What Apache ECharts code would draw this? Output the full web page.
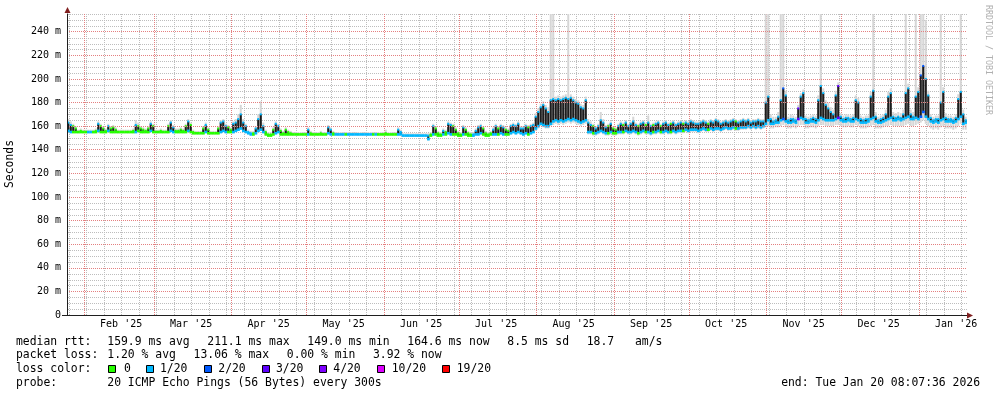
<!DOCTYPE html>
<html><head><meta charset="utf-8">
<script src="https://cdn.jsdelivr.net/npm/echarts@6/dist/echarts.min.js"></script>
<style>html,body{margin:0;padding:0;background:#fff}#c{width:997px;height:397px}</style>
</head><body><div id="c"></div>
<script>
// ---- time frame & axis labels ----
const START = '2025-01-25T08:07:36Z';
const END = '2026-01-20T08:07:36Z';
const MONTH_LABELS = ["Feb '25","Mar '25","Apr '25","May '25","Jun '25","Jul '25","Aug '25","Sep '25","Oct '25","Nov '25","Dec '25","Jan '26"];
const MONTH_LABEL_AT = ['2025-02-16','2025-03-16','2025-04-16','2025-05-16','2025-06-16','2025-07-16','2025-08-16','2025-09-16','2025-10-16','2025-11-16','2025-12-16','2026-01-16'];
const MONTH_STARTS = ['2025-02-01','2025-03-01','2025-04-01','2025-05-01','2025-06-01','2025-07-01','2025-08-01','2025-09-01','2025-10-01','2025-11-01','2025-12-01','2026-01-01'];
const FIRST_WEEK = '2025-01-26';
const Y_MAX = 255, Y_MAJOR = 20, Y_MINOR = 5;

// ---- daily values (ms), one per day from START ----
const LO = [
156,155,155,155,155,155,155,155,155,155, 155,155,156,155,155,155,156,155,155,155,
155,155,155,155,155,155,155,155,156,155, 155,155,155,156,155,155,155,155,155,155,
155,156,155,155,155,155,155,155,156,155, 154,154,154,154,154,155,154,154,154,154,
154,155,156,155,155,155,155,156,157,158, 156,155,154,153,153,154,156,157,155,153,
152,152,153,154,155,153,153,153,153,153, 153,153,153,153,153,153,153,153,153,153,
153,153,153,153,154,153,153,153,153,153, 153,153,153,153,153,153,153,153,153,153,
153,153,153,153,153,153,153,153,153,153, 153,153,153,153,152,152,152,152,152,152,
152,152,152,152,149,152,153,153,152,152, 153,153,154,153,153,153,152,152,153,153,
152,152,152,153,153,154,153,152,152,153, 153,153,153,154,153,153,153,154,155,154,
155,154,153,154,153,154,155,158,160,162, 161,160,160,162,164,165,164,165,164,165,
166,165,166,165,164,163,164,165,155,155, 154,154,155,156,155,154,154,155,154,154,
155,155,155,156,155,155,156,155,154,155, 156,155,155,154,155,155,156,155,155,156,
155,155,156,155,156,156,156,157,156,157, 157,157,156,157,158,157,157,158,157,158,
158,157,158,159,158,158,159,158,158,159, 159,159,160,159,160,159,160,159,160,162,
165,162,162,163,163,165,166,164,163,163, 164,163,166,167,166,163,163,164,164,163,
165,167,166,165,165,165,165,166,167,165, 164,164,165,164,164,166,165,163,163,163,
164,166,167,164,163,163,164,165,166,167, 165,165,166,165,166,167,168,166,166,167,
166,168,172,168,166,164,163,164,163,165, 166,164,164,164,163,164,166,168,162,163];
const HI = [
163,161,160,158,155,156,155,155,155,155, 155,156,162,160,158,156,160,158,159,157,
155,155,155,155,155,155,156,161,160,158, 157,156,158,162,160,155,155,156,155,155,
160,163,159,156,156,157,156,160,164,161, 155,154,154,154,158,161,157,154,154,154,
158,163,164,160,159,157,162,163,166,170, 163,160,155,154,154,158,166,170,160,155,
153,153,157,162,160,156,154,157,155,154, 153,153,153,153,153,153,157,154,153,153,
153,154,153,153,159,157,154,153,153,153, 153,153,153,153,153,153,153,153,153,153,
153,153,153,153,153,153,153,154,153,153, 153,153,157,155,152,152,152,152,152,152,
152,152,152,152,152,153,160,158,154,153, 156,155,162,161,160,157,154,153,159,157,
154,153,153,156,159,160,158,154,153,154, 157,160,158,160,159,157,156,160,161,160,
162,158,158,160,159,160,161,168,172,176, 178,175,172,182,183,182,183,182,183,184,
183,184,182,180,179,176,175,182,163,161, 160,158,160,165,163,159,160,162,158,157,
160,162,161,163,160,162,164,161,160,162, 163,161,163,160,161,162,163,160,162,163,
161,162,163,161,162,163,162,163,162,164, 163,162,162,163,164,163,162,164,163,165,
164,162,163,164,163,164,165,164,163,164, 165,164,165,163,164,164,165,164,164,180,
185,166,164,165,168,182,192,186,165,166, 166,165,175,185,188,166,165,166,167,166,
182,194,188,178,175,172,170,186,194,168, 166,167,167,166,167,182,180,166,165,166,
166,185,190,168,165,166,167,170,185,188, 168,167,168,167,170,188,192,170,168,185,
189,203,211,200,186,167,165,166,166,180, 189,167,166,166,165,167,183,189,170,165];
// loss class index into LOSS_COLORS
const LOSS = [
1,1,0,0,0,0,0,0,1,1, 0,0,1,0,0,0,1,0,0,0, 0,0,0,0,0,0,0,1,0,0, 0,0,0,1,0,0,0,0,0,0,
0,1,1,0,0,0,0,0,1,0, 0,0,0,0,0,1,0,0,0,0, 0,1,1,1,0,0,1,1,1,1, 1,1,1,1,0,1,1,1,1,0,
0,0,0,1,1,0,0,0,0,0, 0,0,0,0,0,0,1,0,0,0, 0,0,0,0,1,1,0,1,1,1, 1,0,1,1,1,1,1,1,1,1,
1,1,0,1,0,0,0,0,0,0, 0,0,1,1,1,1,1,1,1,1, 1,1,1,1,1,0,1,0,0,0, 1,0,1,1,0,0,0,0,1,0,
0,0,1,1,1,1,0,0,0,0, 1,1,0,1,1,0,0,1,1,1, 1,1,1,1,0,1,1,1,1,1, 1,1,1,1,1,1,1,1,1,1,
1,1,1,1,1,1,1,1,1,1, 0,1,1,1,1,1,0,1,0,0, 1,1,0,1,1,1,1,1,0,1, 1,0,1,1,0,1,1,0,1,1,
1,0,1,1,1,1,0,1,1,1, 1,1,1,1,1,1,0,1,1,1, 1,1,1,1,1,1,1,0,1,1, 1,1,1,1,1,1,1,1,1,1,
1,1,1,1,1,1,2,1,1,1, 1,1,3,1,1,1,1,1,1,1, 1,1,1,1,1,1,1,1,3,1, 1,1,1,1,1,1,1,1,1,1,
1,1,1,1,1,1,1,1,1,1, 1,1,1,1,1,1,1,1,1,1, 1,2,2,1,1,1,1,1,1,1, 1,1,1,1,1,1,1,1,1,1];
const SMOKE_TOP = [
166,164,162,160,157,158,157,157,157,157, 157,158,164,162,160,158,162,160,161,159,
157,157,157,157,157,157,158,165,163,160, 159,158,160,164,162,157,157,158,157,157,
162,165,161,158,158,159,158,162,166,163, 157,156,156,156,160,163,159,156,156,156,
160,165,166,162,161,159,164,166,170,178, 166,162,157,156,156,160,170,181,163,157,
155,155,159,164,162,158,156,159,157,156, 155,155,155,155,155,155,159,156,155,155,
155,156,155,155,161,159,156,155,155,155, 155,155,155,155,155,155,155,155,155,155,
155,155,155,155,155,155,155,157,155,155, 155,155,159,157,154,154,154,154,154,154,
154,154,154,154,154,155,162,160,156,155, 158,157,164,163,162,159,156,155,161,159,
156,155,155,158,161,162,160,156,155,156, 159,162,160,162,161,159,158,162,163,162,
164,160,160,162,161,162,163,171,175,179, 181,178,176,255,255,185,186,185,186,187,
255,187,185,183,182,179,178,185,166,164, 162,160,162,172,166,161,162,164,160,159,
162,164,163,165,162,164,168,163,162,164, 165,163,169,162,163,164,165,162,164,165,
163,164,165,163,164,165,164,165,164,166, 165,164,164,165,166,165,164,166,165,167,
166,164,165,166,165,166,167,166,165,166, 167,166,167,165,166,166,167,166,166,255,
255,170,168,168,172,255,255,190,168,170, 169,168,178,188,191,169,168,169,170,169,
186,255,192,182,180,176,174,190,197,171, 169,170,170,169,170,186,184,169,168,169,
169,189,255,172,168,169,170,174,189,192, 172,171,172,171,174,255,196,174,172,255,
193,255,255,250,190,170,168,169,169,255, 193,171,169,169,168,170,187,255,174,168];
const SMOKE_BOT = [
155,154,154,154,154,154,154,154,154,154, 154,154,155,154,154,154,155,154,154,154,
154,154,154,154,154,154,154,154,155,154, 154,154,154,155,154,154,154,154,154,154,
154,155,154,154,154,154,154,154,155,154, 153,153,153,153,153,154,153,153,153,153,
153,154,155,154,154,154,154,155,156,157, 155,154,153,152,152,153,155,156,154,152,
151,151,152,153,154,152,152,152,152,152, 152,152,152,152,152,152,152,152,152,152,
152,152,152,152,153,152,152,152,152,152, 152,152,152,152,152,152,152,152,152,152,
152,152,152,152,152,152,152,152,152,152, 152,152,152,152,151,151,151,151,151,151,
151,151,151,151,148,151,152,152,151,151, 152,152,153,152,152,152,151,151,152,152,
151,151,151,152,152,153,152,151,151,152, 152,152,152,153,152,152,152,153,154,153,
154,153,152,153,152,153,154,156,158,160, 159,158,158,160,161,162,161,162,161,162,
163,162,163,162,161,160,161,162,153,153, 152,152,153,154,153,152,152,153,152,152,
153,153,153,154,153,153,154,153,152,153, 154,153,153,152,153,153,154,153,153,154,
153,153,154,153,154,154,154,155,154,155, 155,155,154,155,156,155,155,156,155,156,
156,155,156,157,156,156,157,156,156,157, 157,157,158,157,158,157,158,157,158,159,
160,158,158,159,159,160,161,159,158,158, 159,158,160,161,161,158,158,159,159,158,
160,161,161,160,160,160,160,161,161,160, 159,159,160,159,159,161,160,158,158,158,
159,160,161,158,158,158,159,160,160,161, 160,160,160,160,160,161,162,160,160,161,
162,163,165,162,160,158,157,158,157,159, 160,158,158,158,157,158,160,162,157,157];

const LOSS_COLORS = ['#26ff00','#00b8ff','#0059ff','#5e00ff','#7e00ff','#dd00ff','#ff0000'];
const LOSS_LABELS = ['0','1/20','2/20','3/20','4/20','10/20','19/20'];

// ---- legend texts ----
const RTT_LINE = [['median rtt:',16],['159.9 ms avg',107.3],['211.1 ms max',207.3],['149.0 ms min',307.3],['164.6 ms now',407.3],['8.5 ms sd',507.3],['18.7',586.7],['am/s',635]];
const LOSS_LINE = [['packet loss:',16],['1.20 % avg',107.3],['13.06 % max',193.6],['0.00 % min',286.8],['3.92 % now',373]];
const PROBE_LINE = [['probe:',16],['20 ICMP Echo Pings (56 Bytes) every 300s',107.3]];
const END_TEXT = 'end: Tue Jan 20 08:07:36 2026';
const LOSS_BOX_X = [108,146,204,262,319,377,442];
const LOSS_TEXT_X = [124,160,218.3,276,333.3,391.7,456.7];

// ---- build ----
const DAY = 86400000;
const T0 = Date.parse(START), T1 = Date.parse(END);
const rows = LO.map((lo, i) => [T0 + (i + 0.5) * DAY, lo, HI[i], LOSS[i], SMOKE_BOT[i], SMOKE_TOP[i]]);
const monthLabelTs = MONTH_LABEL_AT.map(d => Date.parse(d + 'T00:00:00Z'));
const monthStartTs = MONTH_STARTS.map(d => [Date.parse(d + 'T00:00:00Z'), 0]);
const weekTs = [];
for (let t = Date.parse(FIRST_WEEK + 'T00:00:00Z'); t < T1; t += 7 * DAY) weekTs.push([t, 0]);
const hMinor = [];
for (let v = Y_MINOR; v <= Y_MAX; v += Y_MINOR) if (v % Y_MAJOR !== 0) hMinor.push([T0, v]);

const MONO = 'DejaVu Sans Mono';
const MINOR = '#bdbdbd';
const MAJOR = '#e48080';

function vGrid(color) {
  return function (params, api) {
    const x = Math.round(api.coord([api.value(0), 0])[0]) + 0.5;
    const cs = params.coordSys;
    return {type: 'line', shape: {x1: x, y1: cs.y, x2: x, y2: cs.y + cs.height},
      style: {stroke: color, lineWidth: 1, lineDash: [1, 1]}};
  };
}
function hGrid(color) {
  return function (params, api) {
    const y = Math.round(api.coord([api.value(0), api.value(1)])[1]) + 0.5;
    const cs = params.coordSys;
    return {type: 'line', shape: {x1: cs.x + 1, y1: y, x2: cs.x + cs.width, y2: y},
      style: {stroke: color, lineWidth: 1, lineDash: [1, 1]}};
  };
}

const graphics = [];
function txt(s, x, y) {
  graphics.push({type: 'text', x: x, y: y, silent: true,
    style: {text: s, fill: '#000', font: '11.4px "' + MONO + '"', textAlign: 'left', textVerticalAlign: 'middle'}});
}
RTT_LINE.forEach(([s, x]) => txt(s, x, 341.7));
LOSS_LINE.forEach(([s, x]) => txt(s, x, 355.3));
txt('loss color:', 16, 369.3);
LOSS_LABELS.forEach((s, i) => {
  graphics.push({type: 'rect', silent: true, shape: {x: LOSS_BOX_X[i] + 0.5, y: 365.5, width: 7, height: 7},
    style: {fill: LOSS_COLORS[i], stroke: '#000', lineWidth: 1}});
  txt(s, LOSS_TEXT_X[i], 369.3);
});
PROBE_LINE.forEach(([s, x]) => txt(s, x, 383.3));
graphics.push({type: 'text', x: 980, y: 383.3, silent: true,
  style: {text: END_TEXT, fill: '#000', font: '11.4px "' + MONO + '"', textAlign: 'right', textVerticalAlign: 'middle'}});
graphics.push({type: 'text', x: 10, y: 164, rotation: Math.PI / 2, silent: true,
  style: {text: 'Seconds', fill: '#000', font: '11.4px "' + MONO + '"', textAlign: 'center', textVerticalAlign: 'middle'}});
graphics.push({type: 'text', x: 988, y: 60, rotation: -Math.PI / 2, silent: true,
  style: {text: 'RRDTOOL / TOBI OETIKER', fill: '#b0b0b0', font: '8.3px "' + MONO + '"', textAlign: 'center', textVerticalAlign: 'middle'}});
// axis arrows
graphics.push({type: 'polygon', silent: true, z: 20, shape: {points: [[67.5, 7], [64.5, 13], [70.5, 13]]}, style: {fill: '#801f1f'}});
graphics.push({type: 'polygon', silent: true, z: 20, shape: {points: [[973, 315.5], [967, 312.5], [967, 318.5]]}, style: {fill: '#801f1f'}});
graphics.push({type: 'line', silent: true, z: 20, shape: {x1: 62, y1: 315.5, x2: 67, y2: 315.5}, style: {stroke: '#1f1f1f', lineWidth: 1}});

const chart = echarts.init(document.getElementById('c'), null, {renderer: 'canvas'});
chart.setOption({
  animation: false,
  backgroundColor: '#ffffff',
  grid: {left: 67, right: 30, top: 14, bottom: 82, containLabel: false},
  xAxis: {
    type: 'value', min: T0, max: T1, z: 10,
    axisLine: {show: true, lineStyle: {color: '#1f1f1f', width: 1}},
    axisTick: {show: false},
    splitLine: {show: false},
    axisLabel: {
      customValues: monthLabelTs,
      formatter: v => MONTH_LABELS[monthLabelTs.indexOf(v)] || '',
      color: '#000', fontFamily: MONO, fontSize: 10, margin: 4
    }
  },
  yAxis: {
    type: 'value', min: 0, max: Y_MAX, interval: Y_MAJOR, z: 10,
    axisLine: {show: true, onZero: false, lineStyle: {color: '#1f1f1f', width: 1}},
    axisTick: {show: false},
    splitLine: {show: true, showMinLine: false, showMaxLine: false, lineStyle: {color: MAJOR, type: [1, 1], width: 1}},
    axisLabel: {
      showMaxLabel: false,
      formatter: v => (v % Y_MAJOR !== 0 ? '' : (v === 0 ? '0' : v + ' m')),
      color: '#000', fontFamily: MONO, fontSize: 10, margin: 6
    }
  },
  graphic: graphics,
  series: [
    {type: 'custom', name: 'hminor', data: hMinor, renderItem: hGrid(MINOR), silent: true, z: 1, clip: true},
    {type: 'custom', name: 'weeks', data: weekTs, renderItem: vGrid(MINOR), silent: true, z: 1, clip: true},
    {type: 'custom', name: 'months', data: monthStartTs, renderItem: vGrid(MAJOR), silent: true, z: 1, clip: true},
    {type: 'custom', name: 'smoke', data: rows, silent: true, z: 2, clip: true,
      encode: {x: 0, y: [4, 5]},
      renderItem: function (params, api) {
        const t = api.value(0);
        const top = api.coord([t, api.value(5)]), bot = api.coord([t, api.value(4)]);
        const w = api.size([DAY, 0])[0];
        return {type: 'rect', shape: {x: top[0] - w * 0.4, y: top[1], width: w * 0.8, height: Math.max(1, bot[1] - top[1])},
          style: {fill: '#d6d6d6'}};
      }},
    {type: 'custom', name: 'range', data: rows, silent: true, z: 3, clip: true,
      encode: {x: 0, y: [1, 2]},
      renderItem: function (params, api) {
        const t = api.value(0), lo = api.value(1), hi = api.value(2);
        if (hi <= lo) return null;
        const ph = api.coord([t, hi]), pl = api.coord([t, lo]);
        const w = api.size([DAY, 0])[0];
        return {type: 'rect', shape: {x: ph[0] - w * 0.42, y: ph[1], width: w * 0.84, height: pl[1] - ph[1]},
          style: {fill: '#1c1c1c'}};
      }},
    {type: 'custom', name: 'median', data: rows, silent: true, z: 4, clip: true,
      encode: {x: 0, y: [1, 2]},
      renderItem: function (params, api) {
        const t = api.value(0), lo = api.value(1), hi = api.value(2);
        const c = LOSS_COLORS[api.value(3)];
        const w = api.size([DAY, 0])[0];
        const pl = api.coord([t, lo]), ph = api.coord([t, hi]);
        const children = [{type: 'rect', shape: {x: pl[0] - w / 2, y: pl[1] - 1.3, width: w + 0.3, height: 2.6}, style: {fill: c}}];
        if (hi > lo) children.push({type: 'rect', shape: {x: ph[0] - w * 0.4, y: ph[1] - 1, width: w * 0.8, height: 2}, style: {fill: c}});
        return {type: 'group', children: children};
      }}
  ]
});
</script></body></html>
